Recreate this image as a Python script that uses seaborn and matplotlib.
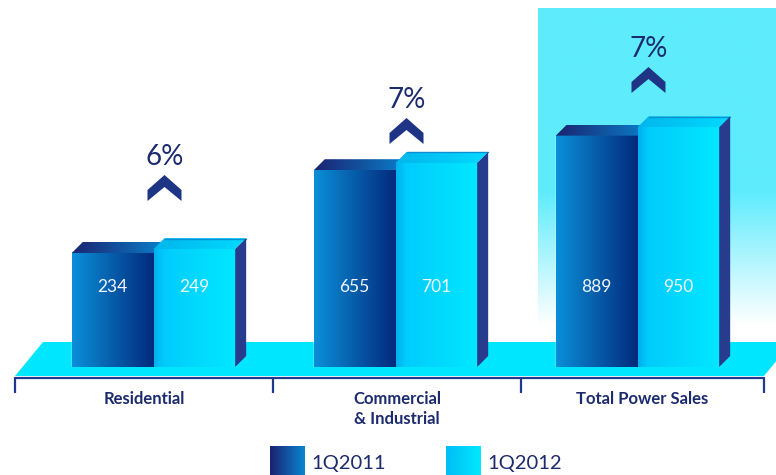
import numpy as np
import pandas as pd
import matplotlib
matplotlib.use("Agg")
import matplotlib.pyplot as plt
import seaborn as sns
from matplotlib.patches import Polygon

# ---------------- data ----------------
categories = ["Residential", "Commercial\n& Industrial", "Total Power Sales"]
periods = ["1Q2011", "1Q2012"]
sales_2011 = [234, 655, 889]
sales_2012 = [249, 701, 950]
growth_labels = ["6%", "7%", "7%"]

df = pd.DataFrame({
    "category": categories * 2,
    "period": [periods[0]] * len(categories) + [periods[1]] * len(categories),
    "sales": sales_2011 + sales_2012,
})

# ---------------- layout / style ----------------
W, H = 776, 475
BASE = 367            # baseline pixel row of the bars
P = 0.53              # power scale exponent of the value axis
K = 6.33              # pixels per unit**P
DX, DY = 11, 11       # 3D depth offsets
NAVY = "#1C2B6E"
CHEV = "#1E3585"
SIDE = "#283C8E"
badge_bottom = [201, 144, 93]
tick_x = [15, 273, 521, 764]

sns.set_theme(style="white")
plt.rcParams["font.family"] = ["Lato", "DejaVu Sans"]

fig = plt.figure(figsize=(W / 100, H / 100), dpi=100)
fig.patch.set_facecolor("white")


def pix_axes(z):
    a = fig.add_axes([0, 0, 1, 1], zorder=z)
    a.set_xlim(0, W)
    a.set_ylim(H, 0)
    a.axis("off")
    a.patch.set_alpha(0)
    return a


def rgb(h):
    h = h.lstrip("#")
    return np.array([int(h[i:i + 2], 16) for i in (0, 2, 4)]) / 255.0


def grad(axis, x0, x1, y0, y1, stops, horizontal=True, clip=None, z=1, n=256):
    t = np.linspace(0, 1, n)
    pos = [s[0] for s in stops]
    cols = np.array([rgb(s[1]) for s in stops])
    arr = np.stack([np.interp(t, pos, cols[:, c]) for c in range(3)], axis=-1)
    img = arr[None, :, :] if horizontal else arr[:, None, :]
    im = axis.imshow(img, extent=(x0, x1, y1, y0), aspect="auto",
                     interpolation="bilinear", zorder=z)
    if clip is not None:
        im.set_clip_path(clip)
    return im


bg = pix_axes(0)

# highlight background behind "Total Power Sales"
grad(bg, 538, W, 8, 342,
     [(0, "#5EECFD"), (0.55, "#5EECFD"), (0.95, "#FFFFFF"), (1, "#FFFFFF")],
     horizontal=False, z=0)

# platform
bg.add_patch(Polygon([(43, 342), (792, 342), (764, 376), (15, 376)],
                     closed=True, facecolor="#00E6FF", edgecolor="none", zorder=1))
# axis line and ticks
bg.plot([tick_x[0], tick_x[-1]], [377.5, 377.5], color="#1F3A8A", lw=1.6, zorder=2,
        solid_capstyle="butt")
for tx in tick_x:
    bg.plot([tx, tx], [377, 393], color="#1F3A8A", lw=1.6, zorder=2, solid_capstyle="butt")

# ---------------- bars via seaborn ----------------
ax = fig.add_axes([0, (H - BASE) / H, 1, BASE / H], zorder=1)
sns.barplot(data=df, x="category", y="sales", hue="period", order=categories,
            hue_order=periods, palette=["#0360AA", "#00D4FF"], width=0.675,
            saturation=1, legend=False, ax=ax)
ax.set_yscale("function", functions=(lambda v: np.power(np.clip(v, 0, None), P),
                                     lambda s: np.power(np.clip(s, 0, None), 1 / P)))
ax.set_ylim(0, (BASE / K) ** (1 / P))
ax.set_xlim(-153.5 / 242, (W - 153.5) / 242)
ax.axis("off")
ax.patch.set_alpha(0)

fig.canvas.draw()
ov = pix_axes(2)
inv = ov.transData.inverted()


def bar_px(patch):
    bb = patch.get_window_extent()
    (x0, y_a), (x1, y_b) = inv.transform([(bb.x0, bb.y0), (bb.x1, bb.y1)])
    return x0, x1, min(y_a, y_b), max(y_a, y_b)


dark_front = [(0, "#0A8FD8"), (1, "#032A7C")]
dark_top = [(0, "#1B2370"), (1, "#0A80CC")]
light_front = [(0, "#00B0EE"), (0.12, "#00CCFC"), (1, "#00E8FF")]
light_top = [(0, "#00B6EC"), (1, "#00DAFF")]

dark_bars = ax.containers[0].patches
light_bars = ax.containers[1].patches

for i in range(len(categories)):
    # dark (2011) bar
    x0, x1, yt, yb = bar_px(dark_bars[i])
    grad(ov, x0, x1, yt, yb, dark_front, z=1)
    tp = Polygon([(x0, yt), (x0 + DX, yt - DY), (x1 + DX, yt - DY), (x1, yt)],
                 closed=True, facecolor="none", edgecolor="none", transform=ov.transData)
    ov.add_patch(tp)
    grad(ov, x0, x1 + DX, yt - DY, yt, dark_top, clip=tp, z=1)
    ov.text((x0 + x1) / 2, 287, f"{sales_2011[i]}", color="#F2F6FF", fontsize=12.5,
            ha="center", va="center", zorder=5)

    # light (2012) bar
    x0, x1, yt, yb = bar_px(light_bars[i])
    grad(ov, x0, x1, yt, yb, light_front, z=2)
    tp = Polygon([(x0, yt), (x0 + DX, yt - DY), (x1 + DX, yt - DY), (x1, yt)],
                 closed=True, facecolor="none", edgecolor="none", transform=ov.transData)
    ov.add_patch(tp)
    grad(ov, x0, x1 + DX, yt - DY, yt, light_top, clip=tp, z=2)
    ov.plot([x0 + DX, x1 + DX], [yt - DY + 0.5, yt - DY + 0.5], color="#0A8FD6", lw=1, zorder=3)
    ov.add_patch(Polygon([(x1, yt), (x1 + DX, yt - DY), (x1 + DX, yb - DY), (x1, yb)],
                         closed=True, facecolor=SIDE, edgecolor="none", zorder=3))
    ov.text((x0 + x1) / 2, 287, f"{sales_2012[i]}", color="#F2F6FF", fontsize=12.5,
            ha="center", va="center", zorder=5)

    # growth badge
    cx = x0 + 11
    ybd = badge_bottom[i]
    ov.add_patch(Polygon([(cx - 17, ybd - 11), (cx, ybd - 26), (cx + 17, ybd - 11),
                          (cx + 17, ybd), (cx, ybd - 14), (cx - 17, ybd)],
                         closed=True, facecolor=CHEV, edgecolor="none", zorder=4))
    ov.text(cx, ybd - 44, growth_labels[i], color=NAVY, fontsize=20,
            ha="center", va="center", zorder=5)

# category labels
for i, lab in enumerate(categories):
    ov.text((tick_x[i] + tick_x[i + 1]) / 2, 391, lab, color=NAVY, fontsize=12,
            fontweight="bold", ha="center", va="top", linespacing=1.3, zorder=5)

# legend
grad(ov, 270, 305, 446, 476, [(0, "#1A2270"), (1, "#0A86D2")], z=4)
ov.text(311, 464, periods[0], color=NAVY, fontsize=14.5, ha="left", va="center", zorder=5)
grad(ov, 446, 481, 446, 476, [(0, "#00BDF6"), (1, "#00E8FF")], z=4)
ov.text(487, 464, periods[1], color=NAVY, fontsize=14.5, ha="left", va="center", zorder=5)

for a in (bg, ov):
    a.set_xlim(0, W)
    a.set_ylim(H, 0)

fig.savefig("out.png", dpi=100, facecolor="white")
